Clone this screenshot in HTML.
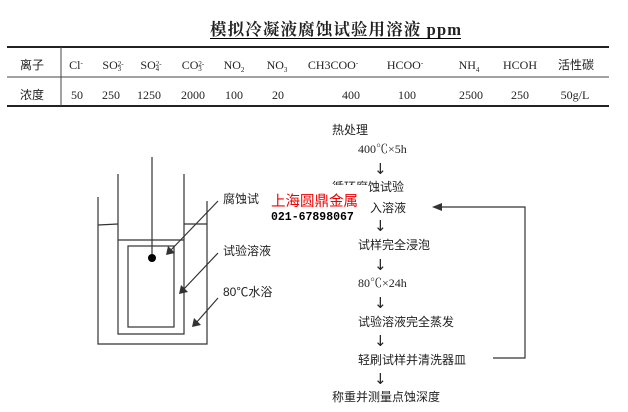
<!DOCTYPE html>
<html><head><meta charset="utf-8"><style>
body{margin:0;width:628px;height:412px;background:#fff;overflow:hidden}
svg{display:block}
text{font-family:"Liberation Serif","Noto Serif CJK SC",serif;font-size:12px;fill:#222}
.c{font-family:"Liberation Sans","Noto Sans CJK SC",sans-serif}
.a{font-size:15px;font-family:"DejaVu Sans",sans-serif}
</style></head><body>
<svg width="628" height="412" viewBox="0 0 628 412">
<text x="210" y="35" textLength="251" lengthAdjust="spacing" style="font-size:16.5px;font-weight:bold;font-family:'Liberation Serif','Noto Serif CJK SC',serif" fill="#000">模拟冷凝液腐蚀试验用溶液  ppm</text>
<line x1="210" y1="38.5" x2="461" y2="38.5" stroke="#000" stroke-width="1"/>
<line x1="7" y1="47" x2="609" y2="47" stroke="#222" stroke-width="2"/>
<line x1="7" y1="77" x2="609" y2="77" stroke="#444" stroke-width="1"/>
<line x1="7" y1="106" x2="609" y2="106" stroke="#222" stroke-width="2"/>
<line x1="61" y1="47" x2="61" y2="106" stroke="#444" stroke-width="1"/>
<g text-anchor="middle">
<text x="32" y="69" class="c">离子</text>
<text x="76" y="69">Cl<tspan dy="-4" font-size="7">-</tspan></text>
<text x="113" y="69">SO<tspan font-size="7" dy="-3">2-</tspan><tspan font-size="7" dy="5" dx="-6">3</tspan></text>
<text x="151" y="69">SO<tspan font-size="7" dy="-3">2-</tspan><tspan font-size="7" dy="5" dx="-6">4</tspan></text>
<text x="193" y="69">CO<tspan font-size="7" dy="-3">2-</tspan><tspan font-size="7" dy="5" dx="-6">3</tspan></text>
<text x="234" y="69">NO<tspan font-size="7" dy="3">2</tspan></text>
<text x="277" y="69">NO<tspan font-size="7" dy="3">3</tspan></text>
<text x="333" y="69">CH3COO<tspan font-size="7" dy="-4">-</tspan></text>
<text x="405" y="69">HCOO<tspan font-size="7" dy="-4">-</tspan></text>
<text x="469" y="69">NH<tspan font-size="7" dy="3">4</tspan></text>
<text x="520" y="69">HCOH</text>
<text x="576" y="69" class="c">活性碳</text>
<text x="32" y="99" class="c">浓度</text>
<text x="77" y="99">50</text><text x="111" y="99">250</text><text x="149" y="99">1250</text>
<text x="193" y="99">2000</text><text x="234" y="99">100</text><text x="278" y="99">20</text>
<text x="351" y="99">400</text><text x="407" y="99">100</text><text x="471" y="99">2500</text>
<text x="520" y="99">250</text><text x="575" y="99">50g/L</text>
</g>
<g stroke="#333" stroke-width="1.2" fill="none">
<polyline points="98,197 98,344 207,344 207,201"/>
<line x1="98" y1="225" x2="118" y2="224"/><line x1="184" y1="224" x2="207" y2="224"/>
<polyline points="118,174 118,334 184,334 184,174"/>
<line x1="118" y1="240" x2="184" y2="240"/>
<rect x="128" y="246" width="46" height="81"/>
<line x1="152" y1="157" x2="152" y2="258"/>
<line x1="218" y1="201" x2="170" y2="251"/>
<line x1="218" y1="253" x2="183" y2="290"/>
<line x1="218" y1="298" x2="196" y2="323"/>
<polyline points="493,358 525,358 525,207 440,207"/>
</g>
<circle cx="152" cy="258" r="4" fill="#000"/>
<g fill="#333">
<polygon points="166,255 168,246 175,253"/>
<polygon points="179,294 181,285 188,292"/>
<polygon points="192,327 194,318 201,325"/>
<polygon points="432,207 442,203 442,211"/>
</g>
<g class="c">
<text x="223" y="203" class="c">腐蚀试</text>
<text x="223" y="255" class="c">试验溶液</text>
<text x="223" y="296" class="c">80℃水浴</text>
<text x="332" y="134" class="c">热处理</text>
<text x="358" y="153">400℃×5h</text>
<text x="374" y="174" class="a">↓</text>
<text x="332" y="191" class="c">循环腐蚀试验</text>
<rect x="330" y="185" width="38" height="10" fill="#fff"/>
<text x="370" y="212" class="c">入溶液</text>
<text x="374" y="231" class="a">↓</text>
<text x="358" y="249" class="c">试样完全浸泡</text>
<text x="374" y="270" class="a">↓</text>
<text x="358" y="287">80℃×24h</text>
<text x="374" y="308" class="a">↓</text>
<text x="358" y="326" class="c">试验溶液完全蒸发</text>
<text x="374" y="346" class="a">↓</text>
<text x="358" y="364" class="c">轻刷试样并清洗器皿</text>
<text x="374" y="384" class="a">↓</text>
<text x="332" y="401" class="c">称重并测量点蚀深度</text>
</g>
<text x="271" y="206" class="c" style="font-size:14.5px;fill:#e00">上海圆鼎金属</text>
<text x="271" y="220" style="font-family:'Liberation Mono',monospace;font-size:11.5px;font-weight:bold;fill:#000">021-67898067</text>
</svg>
</body></html>
